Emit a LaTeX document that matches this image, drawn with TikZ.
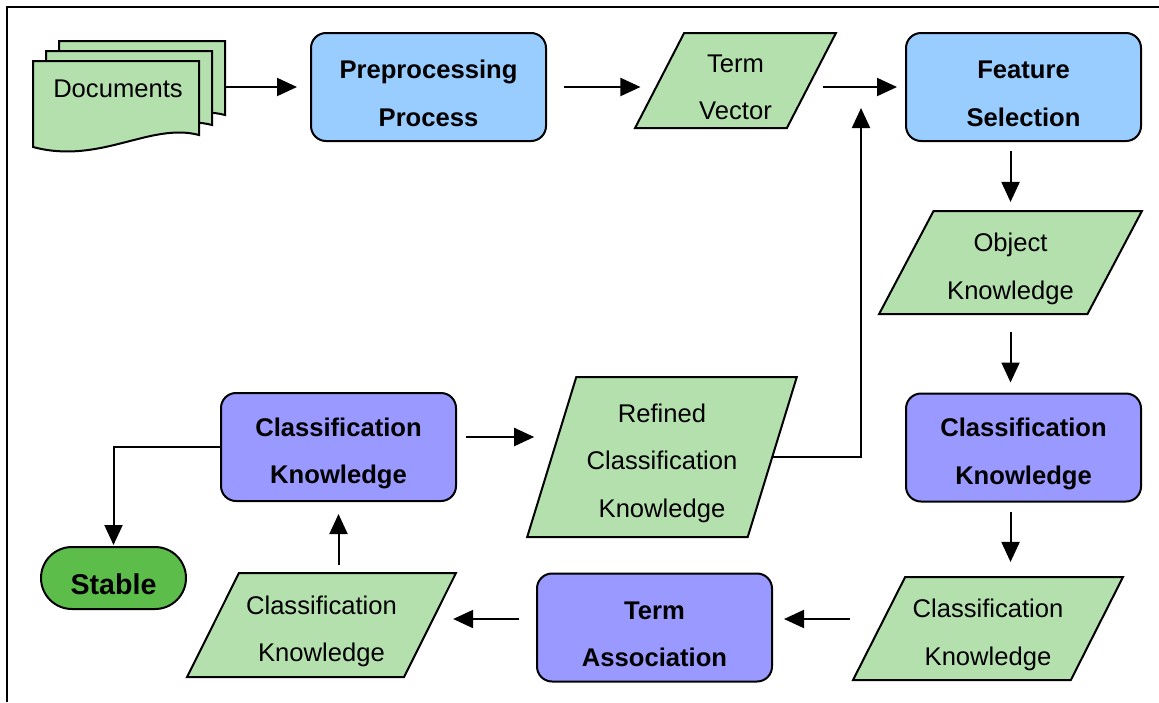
\documentclass[tikz,border=0pt]{standalone}
\usepackage{fontspec}
\setmainfont{Liberation Sans}
\usetikzlibrary{arrows.meta,shapes.geometric}
\definecolor{procblue}{HTML}{99CCFF}
\definecolor{knowpurple}{HTML}{9999FF}
\definecolor{datagreen}{HTML}{B4E0AE}
\definecolor{stablegreen}{HTML}{5CBD4A}
\newcommand{\topstrut}{\rule{0pt}{15.5pt}}
\tikzset{
  box/.style={draw,line width=1pt,rounded corners=7.5pt,minimum width=117.5pt,minimum height=54pt,
    align=center,font=\bfseries\fontsize{12.8}{23.75}\selectfont},
  procbox/.style={box,fill=procblue},
  knowbox/.style={box,fill=knowpurple},
  databox/.style={draw,line width=1pt,fill=datagreen,shape=trapezium,trapezium stretches=true,
    align=center,font=\fontsize{12.8}{23.75}\selectfont},
  stablebox/.style={draw,line width=1pt,fill=stablegreen,rounded corners=15.5pt,minimum width=72.5pt,
    minimum height=31pt,font=\bfseries\fontsize{14.3}{17}\selectfont},
  arr/.style={-{Triangle[length=10pt,width=9pt]},line width=1pt},
}
\begin{document}
\begin{tikzpicture}[x=0.5pt,y=-0.5pt,line join=miter]
\useasboundingbox (0,0) rectangle (1159,702);
\draw[line width=1pt] (7,702) -- (7,7) -- (1159,7);
% stacked documents
\foreach \dx/\dy in {26/-20,13/-10,0/0}
  \draw[line width=1pt,fill=datagreen,shift={(\dx,\dy)}] (33,61) -- (199,61) -- (199,135)
    .. controls (150,122) and (100,165) .. (33,147) -- cycle;
\node[font=\fontsize{12.8}{15}\selectfont] (docs) at (118,89) {Documents};
\coordinate (docsR) at (226,87);
% top row
\node[procbox] (prep) at (428.5,87) {\topstrut Preprocessing\\Process};
\node[databox,minimum width=100.5pt,minimum height=47.5pt,trapezium left angle=66,trapezium right angle=114] (tv) at (735.5,80.5) {\topstrut Term\\Vector};
\node[procbox] (fs) at (1023.5,87) {\topstrut Feature\\Selection};
% right column
\node[databox,minimum width=131.5pt,minimum height=51.5pt,trapezium left angle=63,trapezium right angle=117] (ok) at (1010.5,262.5) {\topstrut Object\\Knowledge};
\node[knowbox] (ckr) at (1023.5,447.5) {\topstrut Classification\\Knowledge};
\node[databox,minimum width=135pt,minimum height=51.5pt,trapezium left angle=62,trapezium right angle=118] (ckd) at (988,628.5) {\topstrut Classification\\Knowledge};
% bottom row
\node[knowbox] (ta) at (654.5,627.5) {\topstrut Term\\Association};
\node[databox,minimum width=134.5pt,minimum height=52pt,trapezium left angle=62,trapezium right angle=118] (ckdl) at (321.5,625) {\topstrut Classification\\Knowledge};
% middle row
\node[knowbox] (ckl) at (338.5,447) {\topstrut Classification\\Knowledge};
\node[databox,minimum width=135pt,minimum height=80pt,trapezium left angle=72,trapezium right angle=108] (rck) at (662,457) {\topstrut Refined\\Classification\\Knowledge};
\node[stablebox] (stable) at (113.5,578) {\rule{0pt}{16.3pt}Stable};
\coordinate (merge) at (861,108);
% connectors
\draw[arr,shorten >=6.5pt] (docsR) -- (prep.west);
\draw[arr,shorten <=8.5pt,shorten >=9pt] (prep.east) -- (prep.east -| tv.west);
\draw[arr,shorten <=5pt,shorten >=4pt] (tv.east |- fs.west) -- (fs.west);
\draw[arr] (rck.east) -| (merge);
\draw[arr,shorten <=4.5pt,shorten >=4pt] (fs.south -| ok.north) -- (ok.north);
\draw[arr,shorten <=8.5pt,shorten >=5pt] (ok.south) -- (ok.south |- ckr.north);
\draw[arr,shorten <=4.75pt,shorten >=7pt] (ckr.south -| ok.south) -- (ok.south |- ckd.north);
\draw[arr,shorten <=14pt,shorten >=5.5pt] ([yshift=4.25pt]ta.east -| ckd.west) -- ([yshift=4.25pt]ta.east);
\draw[arr,shorten <=8.5pt,shorten >=11pt] ([yshift=4.25pt]ta.west) -- ([yshift=4.25pt]ta.west -| ckdl.east);
\draw[arr,shorten <=3.5pt,shorten >=6pt] (ckdl.north -| ckl.south) -- (ckl.south);
\draw[arr,shorten <=4.5pt,shorten >=8.25pt] ([yshift=5pt]ckl.east) -- ([yshift=5pt]ckl.east -| rck.west);
\draw[arr,shorten >=0.5pt] (ckl.west) -| (stable.north);
\end{tikzpicture}
\end{document}
